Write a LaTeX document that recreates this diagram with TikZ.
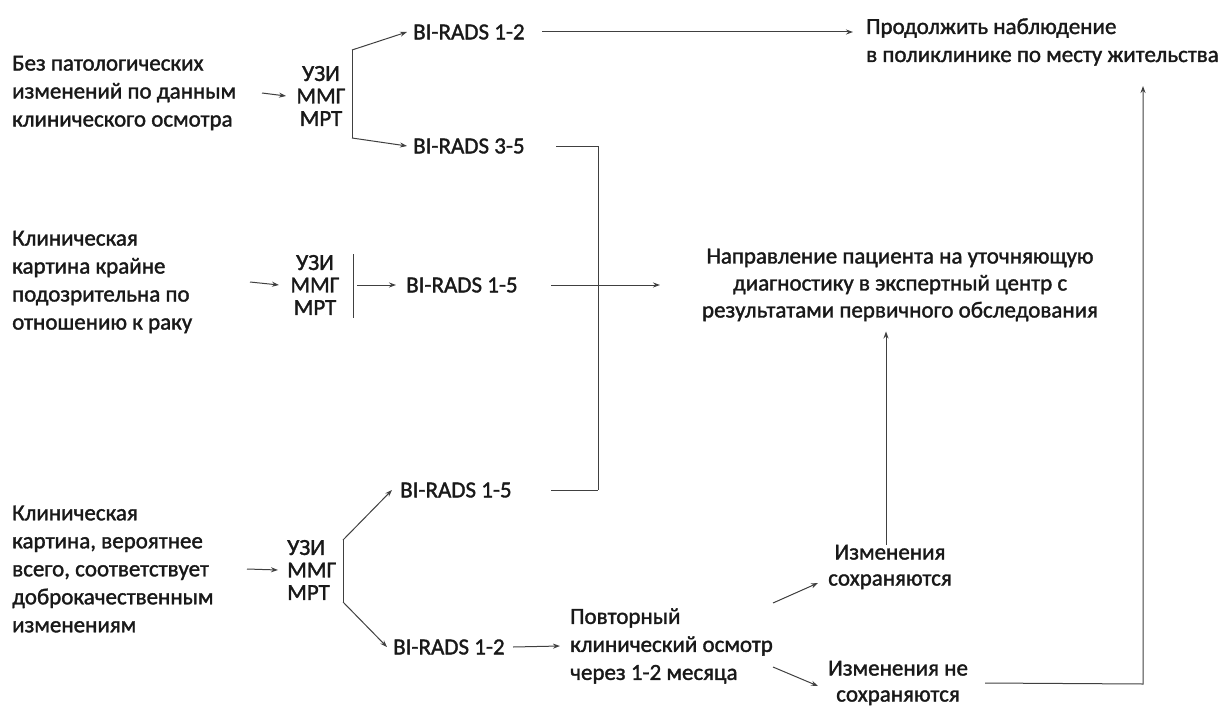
\documentclass[tikz,border=0pt]{standalone}
\usepackage{fontspec}
\setmainfont{Carlito}[FakeBold=1.5]
\usetikzlibrary{arrows.meta}
\begin{document}
\begin{tikzpicture}[x=1pt,y=-1pt,
  txt/.style={font=\fontsize{23}{28}\selectfont, text=black!90, align=left, inner sep=0pt, anchor=west},
  ctxt/.style={font=\fontsize{23}{26}\selectfont, text=black!90, align=center, inner sep=0pt},
  mod/.style={font=\fontsize{23}{22.5}\selectfont, text=black!90, align=center, inner sep=0pt},
  arr/.style={draw=black!75, line width=1pt, -{Stealth[length=7pt,width=5pt]}},
  ln/.style={draw=black!75, line width=1pt}]
\useasboundingbox (0,0) rectangle (1228,709);

% ---- row 1
\node[txt] (a1) at (12,93) {Без патологических\\изменений по данным\\клинического осмотра};
\node[mod] (m1) at (321,96) {УЗИ\\ММГ\\МРТ};
\node[txt] (r12) at (413,32) {BI-RADS 1-2};
\node[txt] (r35) at (413,146) {BI-RADS 3-5};
\node[txt] (p) at (866,42) {Продолжить наблюдение\\в поликлинике по месту жительства};
\coordinate (b1t) at (352,50);
\coordinate (b1b) at (352,138);
\coordinate (j1) at (598,146);
\coordinate (j2) at (598,490);
\coordinate (pin) at (1143,86);

\draw[arr] (a1.east -| 262,0) -- (m1.west -| 286,0);
\draw[ln] (b1t) -- (b1b);
\draw[arr] (b1t) -- (r12.west -| 407,0);
\draw[arr] (b1b) -- (r35.west -| 407,0);
\draw[arr] (r12.east -| 542,0) -- (p.west |- r12.east) [shorten >=13pt];
\draw[ln] (r35.east -| 556,0) -- (j1) -- (j2);

% ---- row 2
\node[txt] (a2) at (12,282) {Клиническая\\картина крайне\\подозрительна по\\отношению к раку};
\node[mod] (m2) at (315,285) {УЗИ\\ММГ\\МРТ};
\node[txt] (r15m) at (406,285) {BI-RADS 1-5};
\node[ctxt, font=\fontsize{23}{27}\selectfont] (n) at (900,285) {Направление пациента на уточняющую\\диагностику в экспертный центр с\\результатами первичного обследования};
\coordinate (b2t) at (353,254);
\coordinate (b2b) at (353,318);

\draw[arr] (a2.east -| 250,0) -- (m2.west -| 279,0);
\draw[ln] (b2t) -- (b2b);
\draw[arr] (m2.east -| 357,0) -- (r15m.west -| 396,0);
\draw[arr] (r15m.east -| 551,0) -- (n.west -| 660,0);

% ---- row 3
\node[txt] (a3) at (12,569) {Клиническая\\картина, вероятнее\\всего, соответствует\\доброкачественным\\изменениям};
\node[mod, align=left, anchor=west] (m3) at (287,570) {УЗИ\\ММГ\\МРТ};
\node[txt] (r15b) at (400,490) {BI-RADS 1-5};
\node[txt] (r12b) at (393,647) {BI-RADS 1-2};
\node[txt] (pov) at (570,646) {Повторный\\клинический осмотр\\через 1-2 месяца};
\node[ctxt] (ch1) at (890,567) {Изменения\\сохраняются};
\node[ctxt] (ch2) at (898,683) {Изменения не\\сохраняются};
\coordinate (b3t) at (343,540);
\coordinate (b3b) at (343,602);
\coordinate (k) at (1143,684);

\draw[arr] (a3.east -| 247,0) -- (m3.west -| 278,0);
\draw[ln] (b3t) -- (b3b);
\draw[arr] (b3t) -- (r15b.west -| 392,0);
\draw[arr] (b3b) -- (r12b.west -| 387,0);
\draw[ln] (r15b.east -| 551,0) -- (j2);
\draw[arr] (r12b.east -| 513,0) -- (pov.west -| 560,0);
\draw[arr] (773,603) coordinate (po1) -- (818,583) coordinate (ci1);
\draw[arr] (773,667) coordinate (po2) -- (818,686) coordinate (ci2);
\draw[arr] (ch1.north -| 886,0) -- (n.south -| 886,0) [shorten >=10pt];
\draw[arr] (ch2.east -| 985,0) -- (k) -- (pin);
\end{tikzpicture}
\end{document}
